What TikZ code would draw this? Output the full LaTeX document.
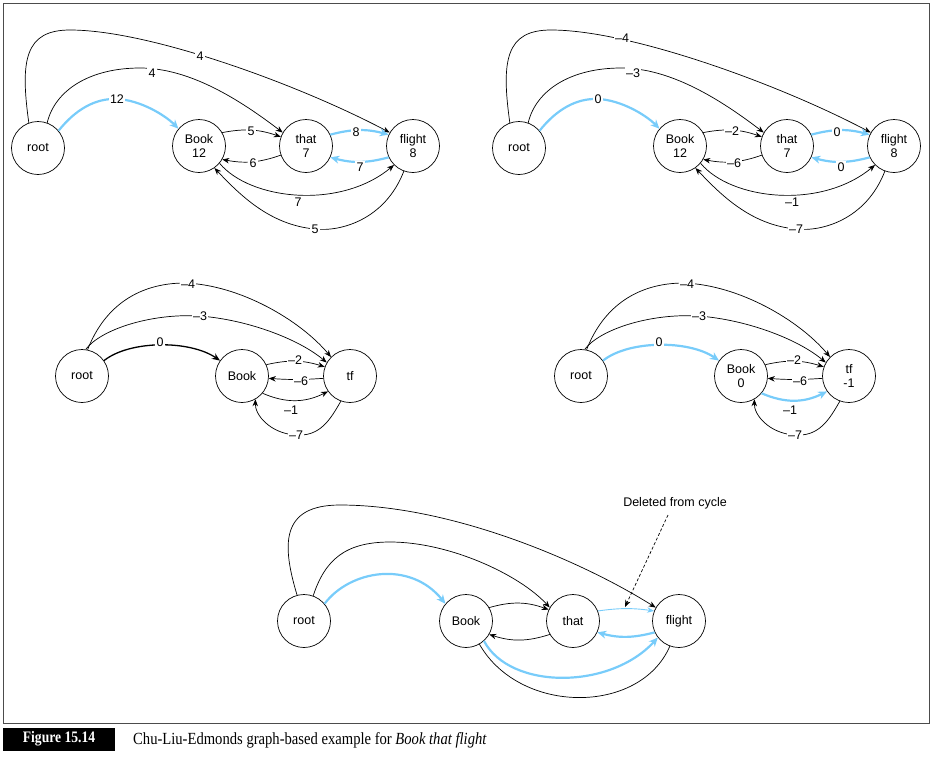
\documentclass[tikz,border=0pt]{standalone}
\usepackage{fontspec}
\setmainfont{Liberation Sans}
\newfontfamily\capfont{Liberation Serif}
\usetikzlibrary{arrows.meta}
\definecolor{skyb}{RGB}{120,204,250}
\begin{document}
\begin{tikzpicture}[x=1pt,y=-1pt,
  nd/.style={circle,draw,line width=0.7pt,minimum size=53pt,inner sep=0pt,align=center,font=\fontsize{12.5}{14}\selectfont},
  lab/.style={fill=white,inner sep=1.5pt,font=\fontsize{12.5}{14}\selectfont},
  e/.style={line width=0.7pt,-{Stealth[length=7pt,width=5.5pt]}},
  eb/.style={draw=skyb,line width=2.2pt,-{Stealth[length=9pt,width=8pt]}},
  ek/.style={line width=1.3pt,-{Stealth[length=8pt,width=6.5pt]}}]
\useasboundingbox (0,0) rectangle (934,756);
\draw[line width=0.8pt,black!70] (3,3) rectangle (929,723);
% caption
\node[fill=black,text=white,inner sep=0pt,minimum width=112pt,minimum height=23pt,font=\capfont\bfseries\fontsize{16}{18}\selectfont] (fig) at (59,739) {\scalebox{0.85}[1]{Figure 15.14}};
\node[anchor=west,inner sep=0pt,font=\capfont\fontsize{17}{19}\selectfont] (cap) at (133,740) {\scalebox{0.86}[1]{Chu-Liu-Edmonds graph-based example for \textit{Book that flight}}};

% ---- top panels
\foreach \dx/\lA/\lB/\lC/\lD/\lE/\lF/\lG/\lH/\lI/\ax in {0/4/4/12/5/6/8/7/7/5/200, 481/–4/–3/0/–2/–6/0/0/–1/–7/141}{
\begin{scope}[xshift=\dx]
\node[nd] (r) at (38,148) {root};
\node[nd] (b) at (199,146) {Book\\12};
\node[nd] (t) at (306,146) {that\\7};
\node[nd] (f) at (413,146) {flight\\8};
\draw[e] (r.110) .. controls (20,60) and (25,30) .. (70,30) .. controls (150,30) and (300,85) .. (f.150);
\draw[e] (r.70) .. controls (55,90) and (90,68) .. (140,68) .. controls (190,68) and (240,100) .. (t.150);
\draw[eb] (r.40) .. controls (75,110) and (95,98) .. (117,99) .. controls (140,100) and (165,115) .. (b.140);
\draw[e] (b.30) to[bend left=15] (t.160);
\draw[e] (t.200) to[bend left=15] (b.330);
\draw[eb] (t.25) to[bend left=15] (f.155);
\draw[eb] (f.205) to[bend left=15] (t.335);
\draw[e] (b.320) .. controls (250,200) and (340,210) .. (f.225);
\draw[e] (f.250) .. controls (385,220) and (340,232) .. (315,229) .. controls (270,225) and (240,195) .. (b.305);
\node[lab] (a1) at (\ax,\ifnum\dx=0 56\else 38\fi) {\lA};
\node[lab] (a2) at (152,73) {\lB};
\node[lab] (a3) at (117,99) {\lC};
\node[lab] (a4) at (251,131) {\lD};
\node[lab] (a5) at (253,163) {\lE};
\node[lab] (a6) at (356,132) {\lF};
\node[lab] (a7) at (360,167) {\lG};
\node[lab] (a8) at (\ifnum\dx=0 298\else 311\fi,202) {\lH};
\node[lab] (a9) at (315,229) {\lI};
\end{scope}}

% ---- middle panels
\foreach \dx/\bt/\tt in {0/Book/tf, 499/Book\\0/tf\\-1}{
\begin{scope}[xshift=\dx]
\node[nd] (r) at (82,376) {root};
\node[nd] (b) at (242,376) {\bt};
\node[nd] (t) at (350,376) {\tt};
\draw[e] (r.78) .. controls (105,305) and (140,283) .. (185,283) .. controls (240,285) and (300,320) .. (t.135);
\draw[e] (r.82) .. controls (100,330) and (150,313) .. (200,316) .. controls (250,320) and (300,340) .. (t.150);
\ifnum\dx=0
\draw[ek] (r.35) .. controls (130,340) and (190,340) .. (b.145);
\else
\draw[eb] (r.35) .. controls (130,340) and (190,340) .. (b.145);
\fi
\draw[e] (b.25) to[bend left=15] (t.160);
\draw[e] (t.185) to[bend left=4] (b.355);
\ifnum\dx=0
\draw[e] (b.320) to[bend right=25] (t.215);
\else
\draw[eb] (b.320) to[bend right=25] (t.215);
\fi
\draw[e] (t.250) .. controls (330,420) and (320,437) .. (295,435) .. controls (270,433) and (255,415) .. (b.300);
\node[lab] (m1) at (188,284) {–4};
\node[lab] (m2) at (200,316) {–3};
\node[lab] (m3) at (160,342) {0};
\node[lab] (m4) at (295,360) {–2};
\node[lab] (m5) at (301,381) {–6};
\node[lab] (m6) at (291,410) {–1};
\node[lab] (m7) at (296,435) {–7};
\end{scope}}

% ---- bottom panel
\node[nd] (R) at (304,621) {root};
\node[nd] (B) at (466,621) {Book};
\node[nd] (T) at (573,621) {that};
\node[nd] (F) at (679,621) {flight};
\draw[e] (R.105) .. controls (282,545) and (280,505) .. (340,505) .. controls (450,505) and (580,560) .. (F.150);
\draw[e] (R.70) .. controls (325,560) and (345,542) .. (390,542) .. controls (450,542) and (520,575) .. (T.150);
\draw[eb] (R.40) .. controls (350,570) and (410,560) .. (B.140);
\draw[e] (B.30) to[bend left=18] (T.155);
\draw[e] (T.210) to[bend left=18] (B.330);
\draw[draw=skyb,line width=0.9pt,-{Stealth[length=7pt,width=5.5pt]}] (T.22) to[bend left=8] (F.158);
\draw[eb] (F.205) to[bend left=15] (T.335);
\draw[eb] (B.312) .. controls (510,690) and (610,690) .. (F.218);
\draw[line width=0.7pt] (B.300) .. controls (520,715) and (640,715) .. (F.250);
\node[font=\fontsize{12.5}{14}\selectfont] (del) at (675,503) {Deleted from cycle};
\coordinate (dt) at (625,607);
\draw[densely dashed,line width=0.7pt,-{Stealth[length=7pt,width=5.5pt]}] (668,515) -- (dt);
\end{tikzpicture}
\end{document}
